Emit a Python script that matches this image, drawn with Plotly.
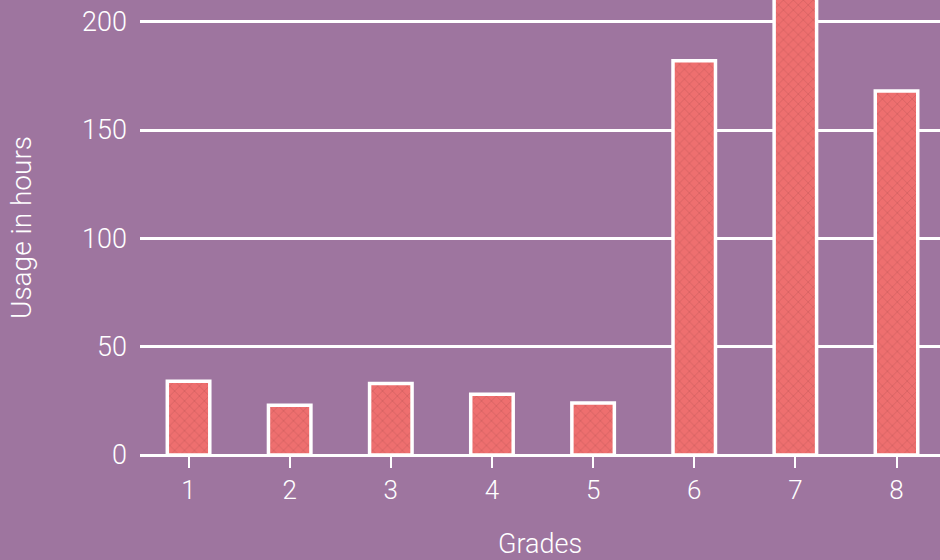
import plotly.graph_objects as go

grades = [1, 2, 3, 4, 5, 6, 7, 8]
usage_hours = [34, 23, 33, 28, 24, 182, 222, 168]
y_ticks = [0, 50, 100, 150, 200]

BG = "#9E759F"
BAR = "#EE6F6F"
FONT = "Roboto, Liberation Sans, Arial, sans-serif"

fig = go.Figure(
    go.Bar(
        x=grades,
        y=usage_hours,
        width=0.42,
        marker=dict(
            color=BAR,
            line=dict(color="white", width=3.5),
            pattern=dict(shape="x", fgcolor="#8A3B3B", bgcolor=BAR, size=7, solidity=0.12),
        ),
    )
)

fig.update_layout(
    width=940,
    height=560,
    paper_bgcolor=BG,
    plot_bgcolor=BG,
    margin=dict(l=140, r=0, t=0, b=105),
    font=dict(family=FONT, color="white", size=27, weight=300),
    showlegend=False,
)
fig.update_xaxes(
    range=[0.52, 8.43],
    tickvals=grades,
    ticks="outside",
    ticklen=12,
    tickwidth=2,
    tickcolor="white",
    showgrid=False,
    zeroline=False,
    showline=False,
    tickfont=dict(family=FONT, size=26, color="white", weight=300),
    title=dict(text="Grades", font=dict(family=FONT, size=27, color="white", weight=300), standoff=32),
)
fig.update_yaxes(
    range=[0, 210],
    tickvals=y_ticks,
    showgrid=True,
    gridcolor="white",
    gridwidth=3,
    zeroline=True,
    zerolinecolor="white",
    zerolinewidth=3,
    ticks="",
    ticklabelstandoff=12,
    tickfont=dict(family=FONT, size=27, color="white", weight=300),
    title=dict(text="Usage in hours", font=dict(family=FONT, size=28, color="white", weight=300), standoff=42),
)

fig.write_html(
    "out.html",
    config={"displayModeBar": False},
    post_script="document.body.style.margin='0';",
)
